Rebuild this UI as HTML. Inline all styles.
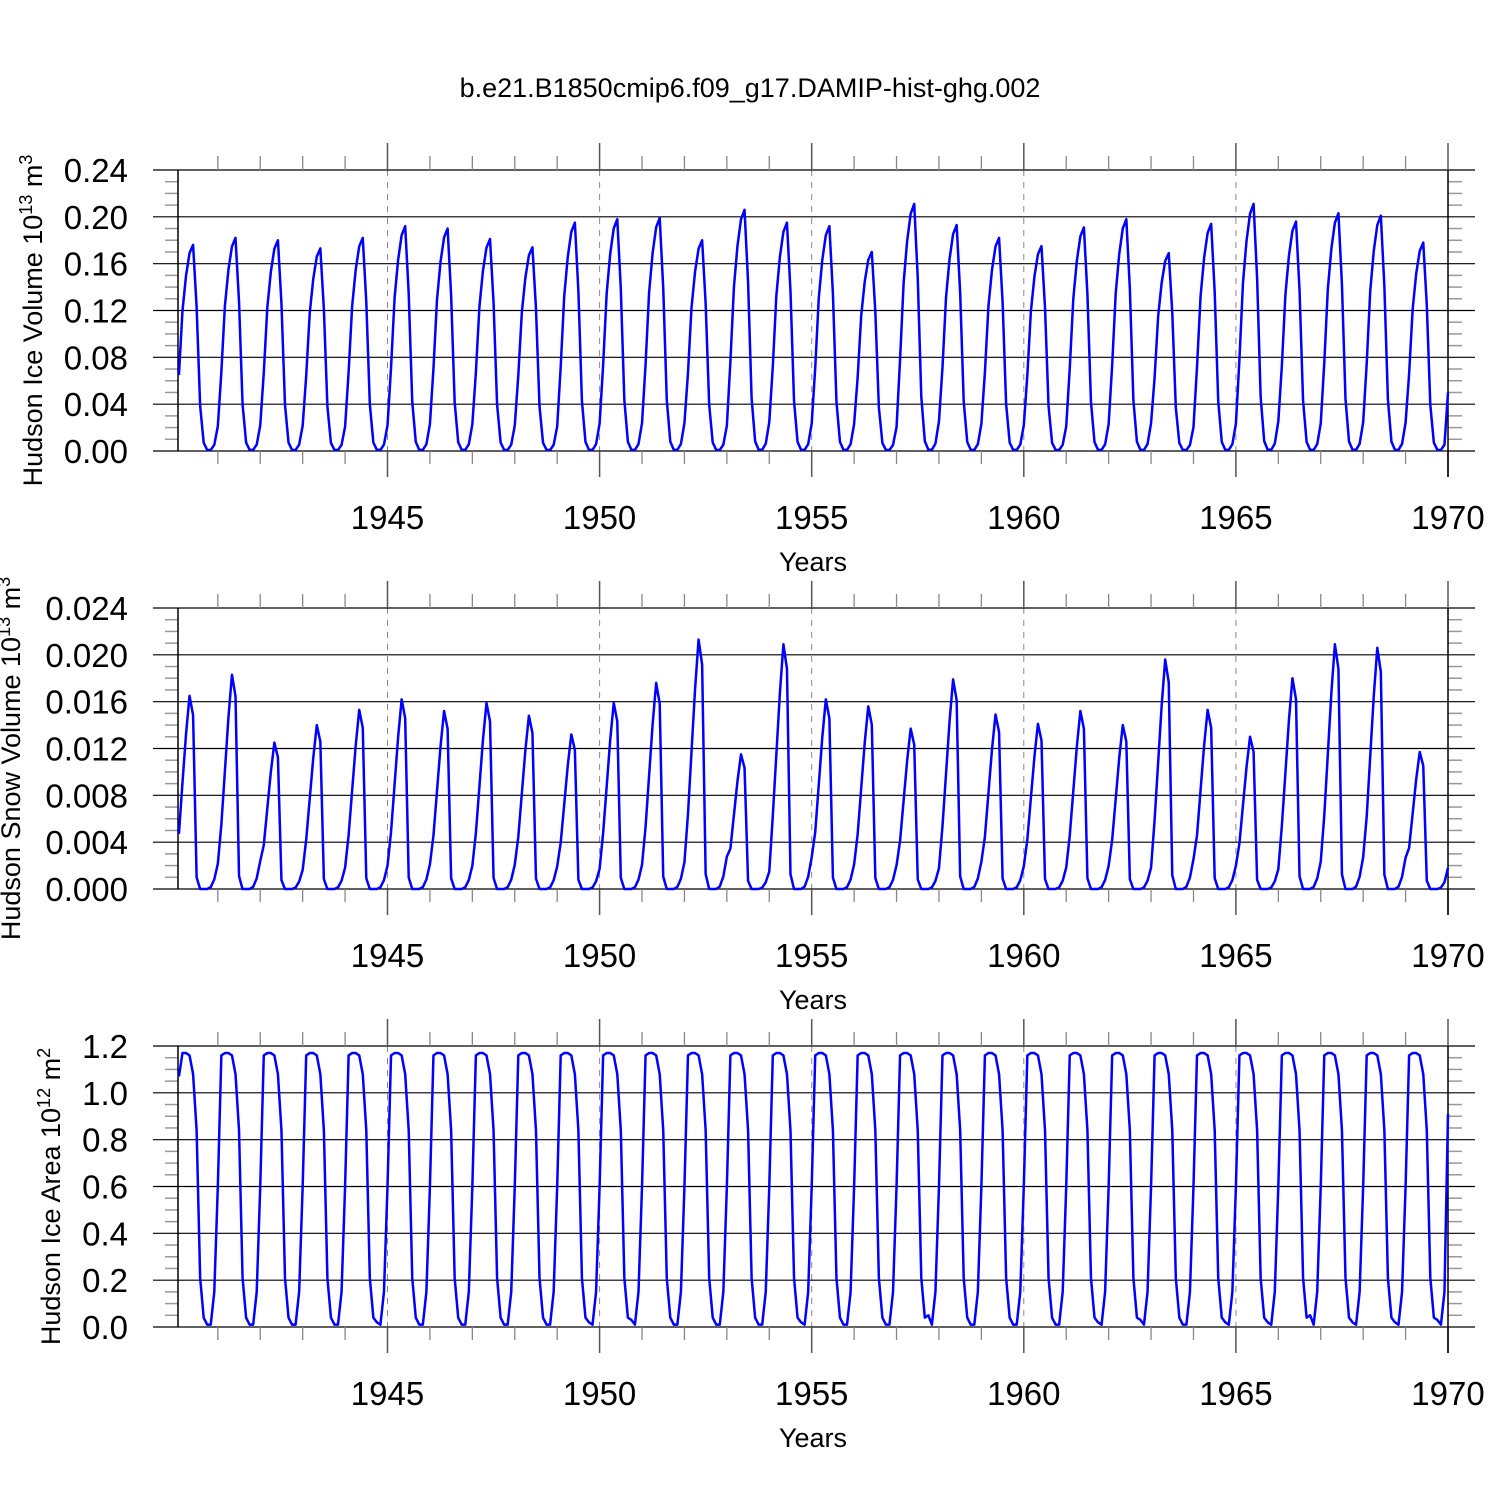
<!DOCTYPE html>
<html><head><meta charset="utf-8"><style>
html,body{margin:0;padding:0;background:#fff;}
svg{display:block;font-family:"Liberation Sans",Arial,sans-serif;}
</style></head><body>
<svg id="chart" width="1500" height="1500" viewBox="0 0 1500 1500" xmlns="http://www.w3.org/2000/svg">
<text x="750" y="97" font-size="27" text-anchor="middle">b.e21.B1850cmip6.f09_g17.DAMIP-hist-ghg.002</text>
</svg>
<script>
// ---- data ----
const years = [1940,1941,1942,1943,1944,1945,1946,1947,1948,1949,1950,1951,1952,1953,1954,1955,1956,1957,1958,1959,1960,1961,1962,1963,1964,1965,1966,1967,1968,1969];
const iceVolPeak = [0.176,0.182,0.180,0.173,0.182,0.192,0.190,0.181,0.174,0.195,0.198,0.199,0.180,0.206,0.195,0.192,0.170,0.211,0.193,0.182,0.175,0.191,0.198,0.169,0.194,0.211,0.196,0.203,0.201,0.178];
const iceVolShape = [0.37,0.68,0.85,0.96,1.0,0.7,0.22,0.04,0.005,0.005,0.03,0.12];
const snowPeak = [0.0165,0.0183,0.0125,0.0140,0.0153,0.0162,0.0152,0.0159,0.0148,0.0132,0.0159,0.0176,0.0213,0.0115,0.0209,0.0162,0.0156,0.0137,0.0179,0.0149,0.0141,0.0152,0.0140,0.0196,0.0153,0.0130,0.0180,0.0209,0.0206,0.0117];
const snowShape = [0.3,0.55,0.8,1.0,0.9,0.06,0,0,0,0.01,0.05,0.13];
const areaMin = [0.01,0.01,0.01,0.01,0.02,0.01,0.01,0.01,0.01,0.02,0.03,0.01,0.01,0.01,0.02,0.01,0.01,0.05,0.01,0.01,0.01,0.02,0.03,0.01,0.02,0.02,0.05,0.02,0.02,0.03];
const areaShape = [1.16,1.17,1.17,1.16,1.08,0.84,0.21,0.04,0.01,0.01,0.15,0.6];
const firstValues = [0.065,0.0047,1.07];
const lastValues = [0.05,0.0018,0.91];
const xTickLabels = [1945,1950,1955,1960,1965,1970];

const svg = document.getElementById('chart');
const NS = 'http://www.w3.org/2000/svg';
function mk(tag, attrs, parent){const e=document.createElementNS(NS,tag);for(const k in attrs)e.setAttribute(k,attrs[k]);(parent||svg).appendChild(e);return e;}

const T0=175.4, X1=1448, AX=178;
function xs(t){return T0+(t-1940)/30*(X1-T0);}

function buildSeries(p){
  const v=[];
  years.forEach((y,i)=>{
    for(let m=0;m<12;m++){
      let val;
      if(p===0) val=iceVolPeak[i]*iceVolShape[m];
      else if(p===1) val=snowPeak[i]*snowShape[m];
      else val=(m===8?areaMin[i]:areaShape[m]);
      v.push(val);
    }
  });
  v[0]=firstValues[p];
  v[v.length-1]=lastValues[p];
  return v;
}

const panels=[
 {off:0,max:0.24,major:0.04,minor:0.01,dec:2,title:'Hudson Ice Volume 10',sup:'13',unit:' m',usup:'3',tx:42,name:'ice-volume'},
 {off:438,max:0.024,major:0.004,minor:0.001,dec:3,title:'Hudson Snow Volume 10',sup:'13',unit:' m',usup:'3',tx:20,name:'snow-volume'},
 {off:876,max:1.2,major:0.2,minor:0.05,dec:1,title:'Hudson Ice Area 10',sup:'12',unit:' m',usup:'2',tx:60,name:'ice-area'}
];

panels.forEach((P,pi)=>{
  const g=mk('g',{});
  
  
  const yB=451+P.off, yT=170+P.off;
  const ys=v=>yB-(v/P.max)*(yB-yT);
  for(let yr=1945;yr<=1965;yr+=5){
    const l=mk('line',{x1:xs(yr),x2:xs(yr),y1:yT,y2:yB,stroke:'#888','stroke-width':1,'stroke-dasharray':'6,6'},g);
    
    
  }
  const nMinor=Math.round(P.max/P.minor);
  for(let k=0;k<=nMinor;k++){
    const v=k*P.minor, y=ys(v);
    const isMaj=Math.abs(v/P.major-Math.round(v/P.major))<1e-6;
    if(isMaj){
      mk('line',{x1:153,x2:1475,y1:y,y2:y,stroke:'#000','stroke-width':1.2},g);
      const t=mk('text',{x:128,y:y+12,'font-size':33,'text-anchor':'end'},g);
      t.textContent=v.toFixed(P.dec);
      
      
    } else {
      mk('line',{x1:165,x2:AX,y1:y,y2:y,stroke:'#999','stroke-width':1.5},g);
      mk('line',{x1:1448,x2:1462,y1:y,y2:y,stroke:'#999','stroke-width':1.5},g);
    }
  }
  for(let yr=1941;yr<=1970;yr++){
    const x=xs(yr), maj=yr%5===0;
    if(maj){
      mk('line',{x1:x,x2:x,y1:yT-27,y2:yT,stroke:'#555','stroke-width':1.5},g);
      mk('line',{x1:x,x2:x,y1:yB,y2:yB+26,stroke:'#555','stroke-width':1.5},g);
    } else {
      mk('line',{x1:x,x2:x,y1:yT-14,y2:yT,stroke:'#888','stroke-width':1.3},g);
      mk('line',{x1:x,x2:x,y1:yB,y2:yB+13,stroke:'#888','stroke-width':1.3},g);
    }
  }
  xTickLabels.forEach(yr=>{
    const t=mk('text',{x:xs(yr),y:yB+78,'font-size':33,'text-anchor':'middle'},g);
    t.textContent=yr;
    
    
  });
  mk('line',{x1:AX,x2:AX,y1:yT,y2:yB,stroke:'#000','stroke-width':1.5},g);
  mk('line',{x1:X1,x2:X1,y1:yT,y2:yB+26,stroke:'#000','stroke-width':1.5},g);
  const xt=mk('text',{x:813,y:yB+120,'font-size':27,'text-anchor':'middle'},g);
  xt.textContent='Years';
  
  
  const cy=(yT+yB)/2+10;
  const yt=mk('text',{x:0,y:0,'font-size':27,'text-anchor':'middle',transform:`translate(${P.tx},${cy}) rotate(-90)`},g);
  
  
  const s1=document.createElementNS(NS,'tspan');s1.textContent=P.title;yt.appendChild(s1);
  const s2=document.createElementNS(NS,'tspan');s2.setAttribute('dy','-10');s2.setAttribute('font-size','18');s2.textContent=P.sup;yt.appendChild(s2);
  const s3=document.createElementNS(NS,'tspan');s3.setAttribute('dy','10');s3.textContent=P.unit;yt.appendChild(s3);
  const s4=document.createElementNS(NS,'tspan');s4.setAttribute('dy','-10');s4.setAttribute('font-size','18');s4.textContent=P.usup;yt.appendChild(s4);
  const vals=buildSeries(pi);
  const pts=vals.map((v,i)=>xs(1940+(i+1)/12).toFixed(2)+','+ys(v).toFixed(2)).join(' ');
  const pl=mk('polyline',{points:pts,fill:'none',stroke:'#0000ff','stroke-width':2.5,'stroke-linejoin':'round'},g);
  
  
});
</script>
</body></html>
